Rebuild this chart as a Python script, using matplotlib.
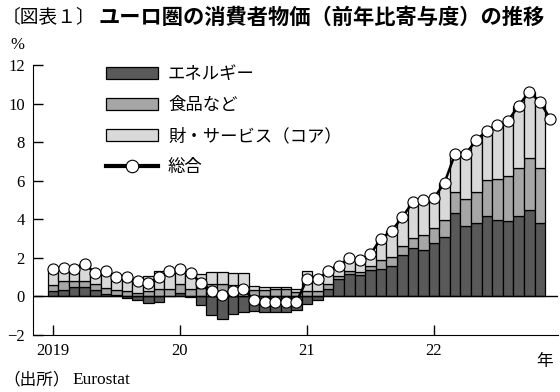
import numpy as np
import matplotlib.pyplot as plt
from matplotlib.patches import Patch
from matplotlib.lines import Line2D

# 月次 2019年1月〜2022年12月 (寄与度, %pt)
energy = [0.26, 0.35, 0.51, 0.51, 0.35, 0.12, 0.05, -0.06, -0.17, -0.35, -0.31, 0.02,
          0.19, -0.03, -0.44, -0.95, -1.17, -0.91, -0.82, -0.76, -0.80, -0.81, -0.81, -0.68,
          -0.40, -0.16, 0.41, 0.92, 1.17, 1.12, 1.35, 1.43, 1.57, 2.16, 2.52, 2.42,
          2.78, 3.10, 4.33, 3.66, 3.82, 4.18, 3.97, 3.92, 4.18, 4.46, 3.82]
food = [0.35, 0.45, 0.29, 0.29, 0.27, 0.31, 0.27, 0.27, 0.20, 0.29, 0.37, 0.39,
        0.44, 0.40, 0.46, 0.66, 0.65, 0.61, 0.38, 0.32, 0.34, 0.36, 0.36, 0.25,
        0.30, 0.28, 0.24, 0.13, 0.14, 0.14, 0.25, 0.44, 0.47, 0.48, 0.52, 0.74,
        0.76, 0.87, 1.09, 1.37, 1.60, 1.88, 2.14, 2.30, 2.49, 2.72, 2.85]
core = [0.79, 0.70, 0.60, 0.90, 0.58, 0.87, 0.68, 0.79, 0.77, 0.76, 0.94, 0.89,
        0.77, 0.83, 0.68, 0.59, 0.62, 0.60, 0.84, 0.24, 0.16, 0.15, 0.15, 0.13,
        1.00, 0.78, 0.65, 0.55, 0.69, 0.64, 0.60, 1.13, 1.36, 1.46, 1.86, 1.84,
        1.56, 1.93, 1.98, 2.37, 2.68, 2.54, 2.79, 2.88, 3.23, 3.42, 3.43]
total = [1.4, 1.5, 1.4, 1.7, 1.2, 1.3, 1.0, 1.0, 0.8, 0.7, 1.0, 1.3,
         1.4, 1.2, 0.7, 0.3, 0.1, 0.3, 0.4, -0.2, -0.3, -0.3, -0.3, -0.3,
         0.9, 0.9, 1.3, 1.6, 2.0, 1.9, 2.2, 3.0, 3.4, 4.1, 4.9, 5.0,
         5.1, 5.9, 7.4, 7.4, 8.1, 8.6, 8.9, 9.1, 9.9, 10.6, 10.1, 9.2]
year_labels = ['2019', '20', '21', '22']
names = ['エネルギー', '食品など', '財・サービス（コア）', '総合']
colors = ['#595959', '#a6a6a6', '#d9d9d9']

jp = ['Noto Sans CJK JP', 'DejaVu Sans']
num = 'Liberation Serif'

fig = plt.figure(figsize=(5.6, 3.92), dpi=100)
ax = fig.add_axes([33 / 560, 57 / 392, 525 / 560, 270 / 392])

xb = np.arange(len(energy))
xl = np.arange(len(total))
pos = np.zeros(len(xb))
neg = np.zeros(len(xb))
for vals, c in zip([energy, food, core], colors):
    v = np.array(vals)
    bottom = np.where(v >= 0, pos, neg)
    ax.bar(xb, v, width=1.0, bottom=bottom, color=c, edgecolor='black', linewidth=0.9, zorder=2)
    pos = pos + np.where(v >= 0, v, 0)
    neg = neg + np.where(v < 0, v, 0)

ax.axhline(0, color='black', lw=1, zorder=3)
ax.plot(xl, total, color='black', lw=1.8, marker='o', ms=8, mfc='white', mec='black', mew=0.8, zorder=4)

ax.set_xlim(-1.89, 47.72)
ax.set_ylim(-2, 12)
ax.set_yticks(np.arange(-2, 13, 2))
ax.set_xticks([0, 12, 24, 36])
ax.set_xticklabels(year_labels)
ax.tick_params(direction='in', length=7, width=1, pad=6, labelsize=12)
for lab in ax.get_xticklabels() + ax.get_yticklabels():
    lab.set_family(num)
for s in ['top', 'right']:
    ax.spines[s].set_visible(False)

ax.text(0.975, -0.065, '年', transform=ax.transAxes, ha='center', va='top', family=jp, fontsize=12)

handles = [Patch(facecolor=c, edgecolor='black', linewidth=0.9) for c in colors]
handles.append(Line2D([], [], color='black', lw=3, marker='o', ms=9, mfc='white', mec='black', mew=0.8))
leg = ax.legend(handles, names, loc='upper left', bbox_to_anchor=(0.139, 1.0), frameon=False,
                borderpad=0, borderaxespad=0, handlelength=3.0, handleheight=0.75,
                handletextpad=0.57, labelspacing=0.75, prop={'family': jp, 'size': 12.5})

fig.text(2 / 560, 1 - 17 / 392, '〔図表１〕', family=jp, fontsize=13.5, va='center', ha='left')
fig.text(98 / 560, 1 - 17 / 392, 'ユーロ圏の消費者物価（前年比寄与度）の推移', family=jp,
         fontsize=15.3, fontweight='bold', va='center', ha='left')
fig.text(10 / 560, 1 - 45 / 392, '%', family=num, fontsize=12, va='center', ha='left')
fig.text(3 / 560, 1 - 380 / 392, '（出所）', family=jp, fontsize=12, va='center', ha='left')
fig.text(72 / 560, 1 - 380 / 392, 'Eurostat', family=num, fontsize=12.5, va='center', ha='left')

fig.savefig('out.png', dpi=100)
